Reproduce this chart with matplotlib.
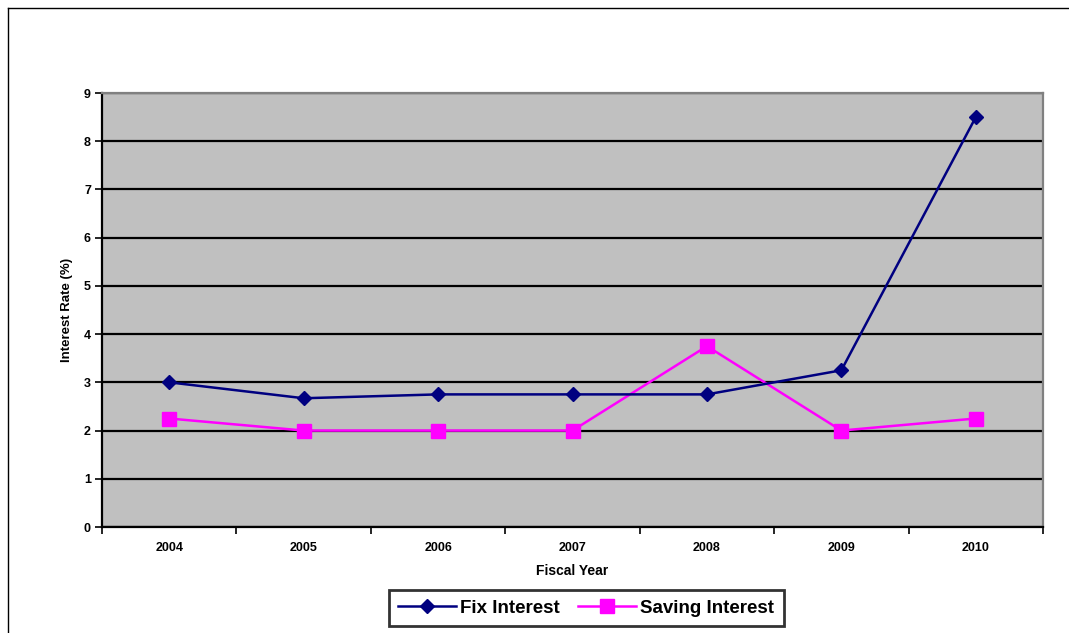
import matplotlib
matplotlib.use("Agg")
import matplotlib.pyplot as plt
from matplotlib.lines import Line2D
import numpy as np

years = ["2004", "2005", "2006", "2007", "2008", "2009", "2010"]
fix_interest = [3.0, 2.67, 2.75, 2.75, 2.75, 3.25, 8.5]
saving_interest = [2.25, 2.0, 2.0, 2.0, 3.75, 2.0, 2.25]

plt.rcParams["font.family"] = ["Liberation Sans", "DejaVu Sans"]
plt.rcParams["font.weight"] = "bold"

fig = plt.figure(figsize=(10.69, 6.33), dpi=100)
ax = fig.add_axes([102 / 1069, 1 - 527 / 633, (1043 - 102) / 1069, (527 - 93) / 633])
ax.set_facecolor("#c0c0c0")

x = np.arange(len(years))
ax.plot(x, fix_interest, color="#000080", lw=1.8, marker="D", ms=7.5,
        label="Fix Interest", zorder=4)
ax.plot(x, saving_interest, color="#ff00ff", lw=1.8, marker="s", ms=10,
        label="Saving Interest", zorder=3)

ax.set_xlim(-0.5, len(years) - 0.5)
ax.set_ylim(0, 9)
ax.set_yticks(range(10))
ax.yaxis.grid(True, color="black", lw=1.6)
ax.set_axisbelow(True)

# category labels centred, tick marks at boundaries
ax.set_xticks(np.arange(-0.5, len(years)), labels=[""] * (len(years) + 1))
ax.set_xticks(x, labels=years, minor=True)
ax.tick_params(axis="x", which="minor", length=0, pad=11, labelsize=9)
ax.tick_params(axis="x", which="major", length=5, width=1.2, direction="out")
ax.tick_params(axis="y", length=5, width=1.2, labelsize=9, pad=3)

for side in ["left", "bottom"]:
    ax.spines[side].set_color("black")
    ax.spines[side].set_linewidth(1.6)
for side in ["top", "right"]:
    ax.spines[side].set_color("#808080")
    ax.spines[side].set_linewidth(1.6)

ax.set_xlabel("Fiscal Year", fontsize=10, fontweight="bold", labelpad=7)
ax.set_ylabel("Interest Rate (%)", fontsize=9.5, fontweight="bold", labelpad=8)

leg = fig.legend(loc="center", bbox_to_anchor=(586 / 1069, 1 - 608 / 633),
                 ncol=2, frameon=True, fancybox=False,
                 handlelength=3.1, columnspacing=1.0, handletextpad=0.2,
                 borderpad=0.5, prop={"weight": "bold", "size": 13.5})
leg.get_frame().set_edgecolor("black")
leg.get_frame().set_linewidth(2)

# outer chart border (top and left edges visible)
fig.add_artist(Line2D([8 / 1069, 1], [1 - 8 / 633, 1 - 8 / 633],
                      transform=fig.transFigure, color="black", lw=1))
fig.add_artist(Line2D([8 / 1069, 8 / 1069], [0, 1 - 8 / 633],
                      transform=fig.transFigure, color="black", lw=1))

fig.savefig("out.png", dpi=100)
